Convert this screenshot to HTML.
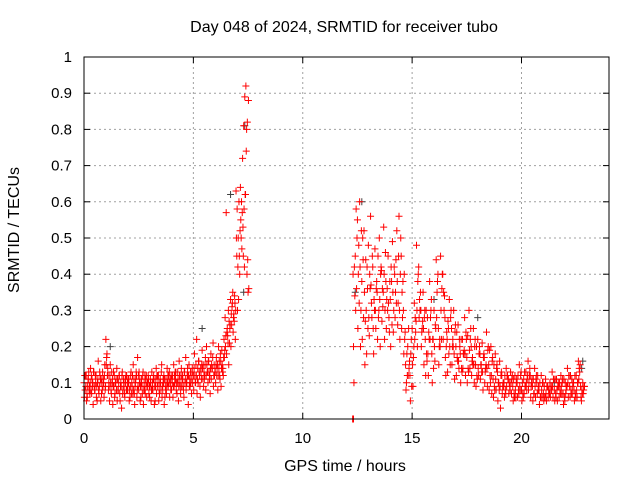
<!DOCTYPE html>
<html><head><meta charset="utf-8"><style>
body{margin:0;background:#fff}
svg{display:block;font-family:"Liberation Sans",sans-serif}
</style></head><body>
<svg id="chart" width="640" height="480" viewBox="0 0 640 480">
<rect width="640" height="480" fill="#fff"/>
<text x="344" y="32" font-size="16" text-anchor="middle">Day 048 of 2024, SRMTID for receiver tubo</text>
<text transform="translate(19,230) rotate(-90)" font-size="16" text-anchor="middle">SRMTID / TECUs</text>
<text x="345" y="471" font-size="16" text-anchor="middle">GPS time / hours</text>
<g id="grid"></g><g id="ticks"></g><g id="marks"></g>
<rect x="84" y="57" width="525" height="362" fill="none" stroke="#000" stroke-width="1"/>
</svg>
<script>
const xTicks=[0,5,10,15,20];
const yTicks=[0,0.1,0.2,0.3,0.4,0.5,0.6,0.7,0.8,0.9,1];
const yTickLabels=["0","0.1","0.2","0.3","0.4","0.5","0.6","0.7","0.8","0.9","1"];
const seg1Start=0, seg1Step=0.05;
const seg1A=[.10,.08,.12,.06,.11,.09,.14,.07,.10,.13,.08,.12,.05,.16,.09,.11,.07,.13,.10,.15,
.22,.18,.12,.09,.15,.07,.11,.13,.06,.10,.14,.08,.12,.05,.09,.13,.11,.07,.10,.12,
.08,.11,.06,.13,.09,.15,.07,.10,.12,.17,.08,.11,.06,.09,.13,.10,.07,.12,.09,.11,
.06,.10,.13,.08,.11,.05,.14,.09,.12,.07,.10,.15,.08,.12,.06,.11,.14,.09,.13,.10,
.08,.12,.15,.10,.13,.07,.11,.16,.09,.14,.12,.08,.13,.17,.10,.12,.15,.09,.11,.14,
.12,.18,.10,.22,.14,.16,.09,.13,.19,.15,.11,.17,.20,.13,.16,.12,.18,.14,.21,.15,
.13,.17,.15,.20,.12,.16,.19,.14,.22,.28,.57,.25,.30,.21,.33,.26,.35,.29,.32,.63,
.58,.50,.45,.64,.60,.72,.81,.89,.92,.40,.35];
const seg1B=[.06,.12,.05,.09,.13,.07,.08,.11,.04,.09,.12,.06,.10,.08,.13,.05,.11,.09,.06,.08,
.15,.12,.08,.05,.10,.13,.04,.09,.07,.11,.05,.08,.12,.09,.03,.07,.10,.06,.12,.08,
.11,.05,.09,.07,.12,.08,.04,.11,.06,.09,.13,.05,.10,.07,.04,.08,.11,.06,.10,.07,
.09,.05,.08,.11,.04,.09,.07,.12,.05,.10,.08,.06,.11,.04,.09,.07,.10,.12,.06,.08,
.11,.06,.09,.13,.08,.10,.05,.12,.07,.09,.11,.06,.10,.08,.12,.04,.09,.13,.07,.10,
.08,.12,.15,.07,.10,.13,.06,.11,.14,.09,.12,.08,.15,.10,.13,.07,.11,.14,.09,.12,
.10,.12,.08,.14,.11,.09,.15,.12,.17,.20,.18,.23,.15,.25,.20,.31,.24,.27,.22,.50,
.30,.33,.40,.55,.47,.53,.58,.62,.74,.82,.88];
const seg1C=[.12,.09,.07,.11,.08,.10,.12,.09,.13,.08,.10,.09,.11,.07,.12,.10,.08,.11,.12,.09,
.17,.14,.10,.12,.08,.10,.09,.12,.10,.08,.11,.10,.07,.10,.12,.08,.09,.11,.08,.10,
.10,.08,.12,.10,.07,.11,.09,.13,.08,.12,.10,.09,.11,.12,.08,.12,.09,.10,.12,.09,
.11,.08,.10,.12,.09,.11,.12,.10,.08,.11,.13,.09,.10,.11,.08,.09,.12,.10,.11,.12,
.10,.09,.12,.11,.10,.13,.09,.10,.12,.11,.09,.13,.11,.10,.14,.12,.11,.10,.13,.12,
.14,.10,.12,.11,.16,.12,.14,.15,.11,.13,.15,.12,.13,.16,.11,.14,.15,.17,.12,.13,
.15,.14,.12,.16,.18,.14,.13,.17,.19,.23,.24,.21,.27,.26,.29,.32,.28,.34,.30,.45,
.42,.60,.52,.50,.57,.45,.42,.62,.80,.44,.36];
const seg2Start=12.3, seg2Step=0.1;
const seg2A=[.40,.45,.55,.60,.38,.52,.30,.48,.56,.42,.47,.35,.50,.41,.53,.38,.45,.33,.49,.40,
.52,.56,.45,.30,.15,.20,.12,.25,.32,.48,.42,.30,.35,.22,.28,.38,.18,.30,.44,.25,
.45,.40,.28,.22,.33,.25,.30,.20,.26,.18,.22,.28,.17,.30,.20,.25,.15,.22,.18,.21,
.17,.24,.15,.20,.11,.18,.13,.16,.12,.10,.14,.11,.13,.09,.12,.10,.15,.08,.11,.13,
.16,.12,.09,.14,.10,.08,.12,.07,.11,.09,.10,.13,.08,.11,.09,.12,.07,.10,.14,.09,
.11,.08,.12,.16,.09,.10];
const seg2B=[.20,.30,.25,.42,.22,.35,.18,.28,.37,.25,.30,.22,.33,.27,.40,.25,.32,.20,.35,.28,
.38,.30,.25,.18,.08,.12,.05,.15,.22,.30,.28,.20,.25,.12,.18,.22,.10,.20,.28,.15,
.30,.22,.17,.13,.20,.15,.18,.12,.16,.10,.14,.18,.10,.19,.12,.15,.09,.14,.11,.13,
.10,.14,.08,.12,.06,.11,.05,.09,.07,.06,.09,.07,.10,.05,.08,.06,.09,.05,.07,.10,
.08,.06,.05,.09,.07,.04,.08,.05,.07,.06,.06,.09,.05,.08,.06,.09,.04,.07,.10,.06,
.07,.05,.08,.11,.06,.07];
const seg2C=[.10,.58,.40,.20,.50,.15,.42,.23,.32,.18,.25,.45,.20,.36,.22,.33,.28,.42,.24,.35,
.26,.22,.35,.40,.10,.25,.18,.09,.28,.20,.33,.24,.15,.30,.12,.28,.22,.16,.35,.20,
.22,.35,.12,.27,.15,.20,.11,.24,.14,.22,.18,.12,.23,.14,.16,.10,.20,.12,.15,.08,
.13,.09,.19,.07,.15,.08,.10,.03,.09,.12,.12,.10,.07,.11,.06,.12,.08,.10,.13,.08,
.10,.09,.11,.06,.12,.10,.06,.09,.05,.08,.08,.06,.11,.05,.10,.07,.11,.08,.06,.12,
.09,.12,.06,.14,.05,.08];
const seg2D=[.42,.36,.48,.30,.44,.27,.36,.40,.28,.33,.36,.28,.40,.31,.30,.36,.24,.38,.30,.44,
.32,.40,.28,.22,.18,.14,.22,.17,.24,.38,.30,.25,.28,.18,.24,.30,.22,.26,.38,.22,
.36,.30,.20,.25,.28,.22,.24,.17,.22,.14,.18,.24,.14,.22,.17,.20,.12,.18,.15,.17,
.14,.19,.12,.16,.09,.14,.10,.12,.10,.08,.12,.09,.11,.07,.10,.08,.12,.07,.09,.11,
.12,.10,.07,.11,.08,.06,.10,.06,.09,.08,.09,.11,.07,.09,.08,.10,.06,.09,.12,.08,
.10,.07,.10,.13,.08,.09];
const seg2E=[.34,.50,.32,.52,.28,.44,.25,.36,.45,.30,.38,.30,.42,.35,.46,.30,.38,.26,.42,.32,
.45,.50,.38,.24,.12,.16,.09,.20,.27,.40,.35,.27,.30,.16,.22,.33,.14,.25,.40,.20,
.40,.34,.24,.18,.30,.20,.26,.16,.20,.13,.19,.22,.13,.25,.15,.22,.11,.20,.13,.18,
.15,.20,.10,.17,.08,.15,.08,.13,.09,.07,.11,.08,.12,.06,.11,.07,.13,.06,.09,.12,
.14,.11,.07,.12,.09,.06,.10,.06,.09,.07,.08,.11,.06,.10,.07,.11,.05,.09,.12,.07,
.10,.06,.10,.15,.07,.09];
const zeroTimes=[12.28,12.32];
const zeroVals=[0,0];
const blackTimes=[1.2,5.4,6.7,7.3,7.35,12.4,12.7,16.0,18.0,21.5,22.8,22.75];
const blackVals=[.20,.25,.62,.35,.81,.35,.60,.33,.28,.10,.16,.14];

const X0=84,X1=609,Y0=419,Y1=57;
const sx=v=>X0+(v/24)*(X1-X0);
const sy=v=>Y0-v*(Y0-Y1);
const NS="http://www.w3.org/2000/svg";
const grid=document.getElementById('grid'),ticks=document.getElementById('ticks'),marks=document.getElementById('marks');
function mk(tag,attrs,parent){const e=document.createElementNS(NS,tag);for(const k in attrs)e.setAttribute(k,attrs[k]);parent.appendChild(e);return e;}
xTicks.forEach(t=>{
  const x=sx(t);
  if(t>0){const g=mk('line',{x1:x,x2:x,y1:Y1,y2:Y0,stroke:'#a0a0a0','stroke-dasharray':'2,3'},grid);
  
  }
  mk('line',{x1:x,x2:x,y1:Y0,y2:Y0-6,stroke:'#000'},ticks);
  mk('line',{x1:x,x2:x,y1:Y1,y2:Y1+6,stroke:'#000'},ticks);
  const l=mk('text',{x:x,y:443,'font-size':15,'text-anchor':'middle'},ticks);l.textContent=t;
  
  
});
yTicks.forEach((t,i)=>{
  const y=sy(t);
  if(t>0&&t<1){const g=mk('line',{x1:X0,x2:X1,y1:y,y2:y,stroke:'#a0a0a0','stroke-dasharray':'2,3'},grid);
  
  }
  mk('line',{x1:X0,x2:X0+6,y1:y,y2:y,stroke:'#000'},ticks);
  mk('line',{x1:X1,x2:X1-6,y1:y,y2:y,stroke:'#000'},ticks);
  const l=mk('text',{x:72,y:y+5,'font-size':15,'text-anchor':'end'},ticks);l.textContent=yTickLabels[i];
  
  
});
function plus(t,v,color,name){
  const x=sx(t),y=sy(v);
  const p=mk('path',{d:`M${x-3.5},${y}h7M${x},${y-3.5}v7`,stroke:color,'stroke-width':1,fill:'none'},marks);
  
  
}
blackTimes.forEach((t,i)=>plus(t,blackVals[i],'#404040','point-black'));
[seg1A,seg1B,seg1C].forEach((arr,k)=>arr.forEach((v,i)=>plus(seg1Start+i*seg1Step+k*0.017,v,'#ff0000','point-red')));
[seg2A,seg2B,seg2C,seg2D,seg2E].forEach((arr,k)=>arr.forEach((v,i)=>plus(seg2Start+i*seg2Step+k*0.02,v,'#ff0000','point-red')));
zeroTimes.forEach((t,i)=>plus(t,zeroVals[i],'#ff0000','point-zero'));
</script>
</body></html>
